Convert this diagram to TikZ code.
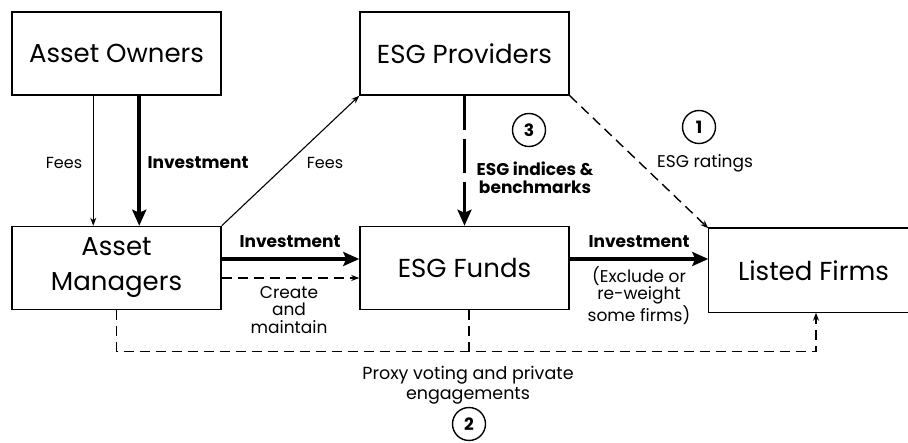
\documentclass[tikz,border=0pt]{standalone}
\usepackage{fontspec}
\setmainfont{Poppins}
\usetikzlibrary{arrows.meta,calc}
\begin{document}
\begin{tikzpicture}[x=1pt,y=-1pt,
  box/.style={draw,line width=1.5pt,minimum width=209pt,minimum height=83pt,inner sep=0pt,
    font=\fontsize{26}{35}\selectfont,align=center},
  lab/.style={font=\fontsize{17}{17.5}\selectfont,align=center,inner sep=0pt},
  blab/.style={font=\fontsize{17}{18}\selectfont\bfseries,align=center,inner sep=0pt},
  num/.style={draw,circle,line width=1.4pt,minimum size=33pt,inner sep=0pt,
    font=\fontsize{17}{17}\selectfont\bfseries},
  thinarr/.style={line width=1.1pt,-{Stealth[length=8pt,width=6pt]}},
  thickarr/.style={line width=4pt,-{Stealth[length=16pt,width=14pt,inset=3pt]}},
  dasharr/.style={line width=1.4pt,dash pattern=on 10pt off 6pt,-{Stealth[length=8pt,width=6pt]}},
  dashln/.style={line width=1.4pt,dash pattern=on 10pt off 6pt},
  bigdash/.style={line width=3.5pt,dash pattern=on 34pt off 9pt,-{Stealth[length=16pt,width=14pt,inset=3pt]}}
]
\useasboundingbox (0,0) rectangle (908,443);
\clip (0,0) rectangle (908,443);

\node[box] (ao) at (116.5,53.5) {Asset Owners};
\node[box] (ep) at (464.5,53.5) {ESG Providers};
\node[box] (am) at (116.5,268) {Asset\\Managers};
\node[box] (ef) at (464.5,268) {ESG Funds};
\node[box,draw=none] (lf) at (813.5,270.5) {Listed Firms};
\draw[line width=1.5pt] (lf.north west) rectangle ([xshift=30pt]lf.south east);

% arrows
\draw[thinarr] ([xshift=82pt]ao.south west) -- ([xshift=82pt]am.north west);
\draw[thickarr] ([xshift=128pt]ao.south west) -- ([xshift=128pt]am.north west);
\draw[thinarr] (am.north east) -- (ep.south west);
\draw[bigdash] (ep.south) -- (ef.north);
\draw[dasharr] (ep.south east) -- (lf.north west);
\draw[thickarr] ([yshift=9pt]am.east) -- ([yshift=9pt]ef.west);
\draw[dasharr] ([yshift=-10pt]am.east) -- ([yshift=-10pt]ef.west);
\draw[thickarr] ([yshift=9pt]ef.east) -- ([yshift=9pt]ef.east -| lf.west);
\coordinate (bl) at ($(am.south)+(0,41)$);
\draw[dasharr] (am.south) -- (bl) -| ([xshift=2.5pt]lf.south);
\draw[dashln] ([xshift=4.5pt]ef.south) -- ([xshift=4.5pt]ef.south |- bl);

% labels
\node[lab,font=\fontsize{16}{17.5}\selectfont] (fees1) at (64,163) {Fees};
\node[blab] (inv1) at (198,163) {Investment};
\node[lab,font=\fontsize{16}{17.5}\selectfont] (fees2) at (325,163) {Fees};
\node[num] (c3) at (529,130) {3};
\node[blab] (idx) at (535,178) {ESG indices \&\\benchmarks};
\node[num] (c1) at (699,127) {1};
\node[lab] (rat) at (705,163) {ESG ratings};
\node[blab] (inv2) at (290,242) {Investment};
\node[lab] (create) at (289,310) {Create\\and\\maintain};
\node[blab] (inv3) at (639,242) {Investment};
\node[lab] (excl) at (639,295.5) {(Exclude or\\re-weight\\some firms)};
\node[lab,font=\fontsize{17.5}{20}\selectfont] (proxy) at (468,385) {Proxy voting and private\\engagements};
\node[num] (c2) at (469,424) {2};
\end{tikzpicture}
\end{document}
